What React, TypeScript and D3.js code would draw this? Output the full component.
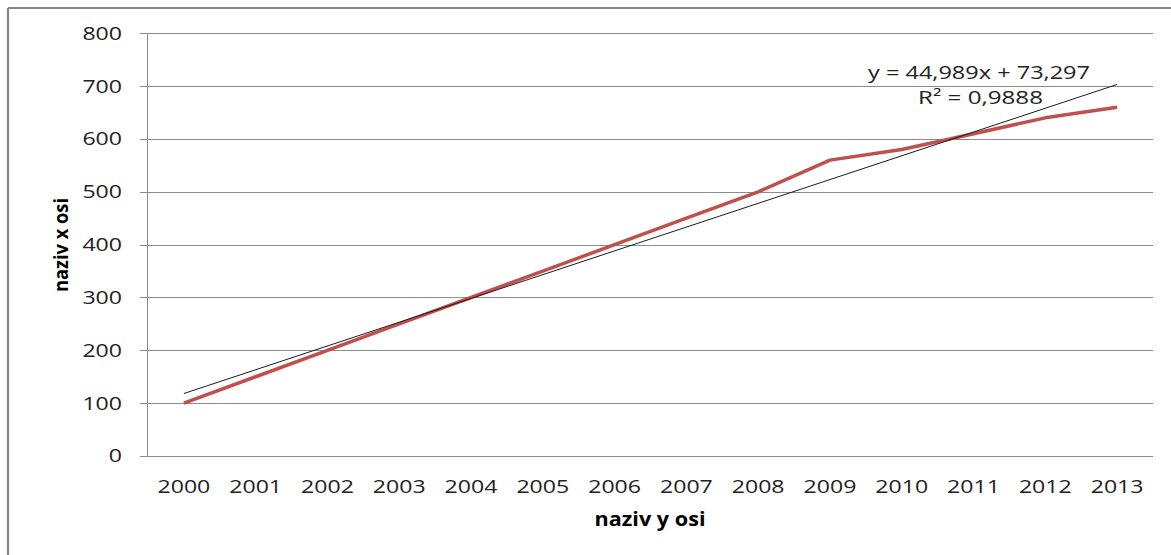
import React from "react";
import * as d3 from "d3";

const years: string[] = ["2000","2001","2002","2003","2004","2005","2006","2007","2008","2009","2010","2011","2012","2013"];
const values: number[] = [100,150,200,250,300,350,400,450,500,560,580,610,640,660];
const yTicks: number[] = [0,100,200,300,400,500,600,700,800];
const trendSlope = 44.989;
const trendIntercept = 73.297;
const equationText = "y = 44,989x + 73,297";
const r2Text = "R² = 0,9888";
const xTitle = "naziv y osi";
const yTitle = "naziv x osi";

const W = 1171, H = 555;
const FONT = "'Open Sans', 'Noto Sans', sans-serif";

export default function App() {
  const x = d3.scaleBand<string>().domain(years).range([148, 1153]).padding(0);
  const y = d3.scaleLinear().domain([0, 800]).range([456, 33.3]);
  const cx = (yr: string) => (x(yr) as number) + x.bandwidth() / 2;

  const line = d3.line<number>()
    .x((_, i) => cx(years[i]))
    .y((d) => y(d));

  const trendPts: [number, number][] = [1, years.length].map((k) => [
    cx(years[k - 1]),
    y(trendSlope * k + trendIntercept),
  ]);

  const digitW = 13.2;
  const textColor = "#222";
  const gridColor = "#8c8c8c";

  return (
    <svg width={W} height={H} style={{ display: "block", position: "absolute", left: 0, top: 0 }}>
      <style>{`body{margin:0;overflow:hidden}`}</style>
      <rect x={0} y={0} width={W} height={H} fill="#fff" />
      {/* frame (left and top visible) */}
      <line x1={8} y1={8} x2={8} y2={H} stroke="#868686" strokeWidth={2.2} />
      <line x1={8} y1={8} x2={W} y2={8} stroke="#868686" strokeWidth={2.2} />

      {/* gridlines */}
      {yTicks.map((t) => (
        <line key={"g" + t} x1={140} x2={1153} y1={Math.round(y(t)) + 0.5} y2={Math.round(y(t)) + 0.5}
          stroke={gridColor} strokeWidth={1} />
      ))}
      {/* y axis line */}
      <line x1={147.5} x2={147.5} y1={y(800)} y2={y(0) + 1} stroke={gridColor} strokeWidth={1} />

      {/* y tick labels */}
      {yTicks.map((t) => {
        const s = String(t);
        return (
          <text key={"yl" + t} x={122} y={y(t)} dy="0.36em" textAnchor="end"
            fontFamily={FONT} fontSize={17.8} fill={textColor}
            textLength={s.length * digitW} lengthAdjust="spacingAndGlyphs">{s}</text>
        );
      })}

      {/* x tick labels */}
      {years.map((yr) => (
        <text key={"xl" + yr} x={cx(yr)} y={493} textAnchor="middle"
          fontFamily={FONT} fontSize={17.8} fill={textColor}
          textLength={yr.length * digitW} lengthAdjust="spacingAndGlyphs">{yr}</text>
      ))}

      {/* axis titles */}
      <text x={650} y={526} textAnchor="middle" fontFamily={FONT} fontWeight="bold" fontSize={19}
        fill="#000" textLength={111} lengthAdjust="spacingAndGlyphs">{xTitle}</text>
      <text transform="translate(68,245) rotate(-90)" textAnchor="middle" fontFamily={FONT}
        fontWeight="bold" fontSize={19} fill="#000" textLength={94} lengthAdjust="spacingAndGlyphs">{yTitle}</text>

      {/* data line */}
      <path d={line(values) || ""} fill="none" stroke="#c0504d" strokeWidth={3.5}
        strokeLinejoin="round" strokeLinecap="butt" />

      {/* trend line */}
      <line x1={trendPts[0][0]} y1={trendPts[0][1]} x2={trendPts[1][0]} y2={trendPts[1][1]}
        stroke="#1a1a1a" strokeWidth={1} />

      {/* equation */}
      <text x={979} y={79} textAnchor="middle" fontFamily={FONT} fontSize={17.8} fill={textColor}
        textLength={222} lengthAdjust="spacingAndGlyphs">{equationText}</text>
      <text x={980.5} y={104} textAnchor="middle" fontFamily={FONT} fontSize={17.8} fill={textColor}
        textLength={125} lengthAdjust="spacingAndGlyphs">{r2Text}</text>
    </svg>
  );
}
